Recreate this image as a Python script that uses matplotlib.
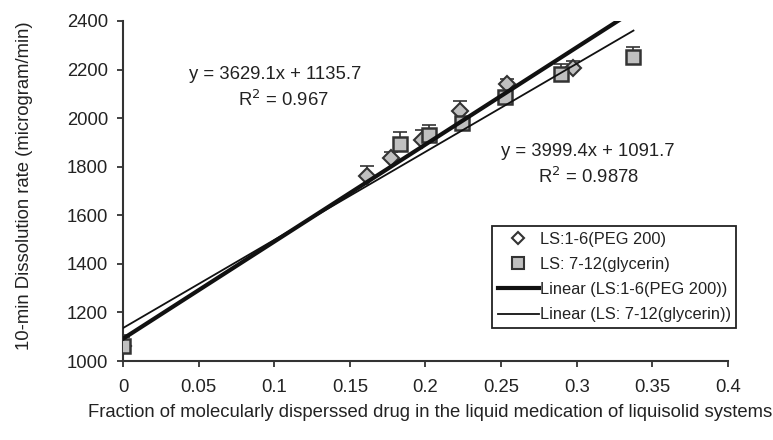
import matplotlib.pyplot as plt
import numpy as np
from matplotlib.lines import Line2D

plt.rcParams['font.family'] = ['Liberation Sans', 'DejaVu Sans']

# LS:1-6 (PEG 200)
peg_x = [0.0, 0.161, 0.177, 0.198, 0.2225, 0.2538, 0.2978]
peg_y = [1060, 1760, 1835, 1910, 2031, 2141, 2205]
peg_err = [40, 43, 26, 40, 40, 19, 32]

# LS:7-12 (glycerin)
gly_x = [0.0, 0.183, 0.2026, 0.224, 0.2526, 0.2897, 0.3375]
gly_y = [1063, 1894, 1931, 1981, 2089, 2181, 2253]
gly_err = [45, 48, 39, 20, 20, 41, 41]

# trendline coefficients (slope, intercept, r2)
peg_fit = (3999.4, 1091.7, 0.9878)
gly_fit = (3629.1, 1135.7, 0.967)

fig = plt.figure(figsize=(7.73, 4.40), dpi=100)
ax = fig.add_axes([0.1591, 0.1795, 0.7827, 0.7728])

grey = '#c0c0c0'
edge = '#333333'
txt = '#222222'
fs = 13.3

ax.errorbar(peg_x, peg_y, yerr=[np.zeros(len(peg_err)), peg_err], fmt='none',
            ecolor=edge, elinewidth=1.2, capsize=5, capthick=1.2, zorder=2)
ax.errorbar(gly_x, gly_y, yerr=[np.zeros(len(gly_err)), gly_err], fmt='none',
            ecolor=edge, elinewidth=1.2, capsize=5, capthick=1.2, zorder=2)
ax.plot(peg_x, peg_y, 'D', color=grey, markeredgecolor=edge, markeredgewidth=1.5,
        markersize=8, zorder=3)
ax.plot(gly_x, gly_y, 's', color=grey, markeredgecolor=edge, markeredgewidth=1.8,
        markersize=10.5, zorder=4)

xl = np.array([0.0, max(gly_x)])
ax.plot(xl, peg_fit[0] * xl + peg_fit[1], color='#111111', linewidth=3, zorder=5)
ax.plot(xl, gly_fit[0] * xl + gly_fit[1], color='#111111', linewidth=1.3, zorder=5)

ax.set_xlim(0, 0.4)
ax.set_ylim(1000, 2400)
ax.set_xticks(np.arange(0, 0.41, 0.05))
ax.set_xticklabels(['0', '0.05', '0.1', '0.15', '0.2', '0.25', '0.3', '0.35', '0.4'])
ax.set_yticks(np.arange(1000, 2401, 200))

for s in ['top', 'right']:
    ax.spines[s].set_visible(False)
for s in ['left', 'bottom']:
    ax.spines[s].set_color('#333333')
    ax.spines[s].set_linewidth(1.5)
ax.tick_params(axis='both', direction='out', length=4.3, width=1.3, color='#333333',
               labelsize=fs, labelcolor=txt)
ax.tick_params(axis='x', pad=8.5)
ax.tick_params(axis='y', pad=6.5)

ax.text(0.1005, 2178, 'y = 3629.1x + 1135.7', fontsize=fs, ha='center', va='center', color=txt)
ax.text(0.106, 2075, 'R$^2$ = 0.967', fontsize=fs, ha='center', va='center', color=txt)
ax.text(0.3075, 1861, 'y = 3999.4x + 1091.7', fontsize=fs, ha='center', va='center', color=txt)
ax.text(0.308, 1759, 'R$^2$ = 0.9878', fontsize=fs, ha='center', va='center', color=txt)

ax.set_ylabel('10-min Dissolution rate (microgram/min)', fontsize=fs, color=txt)
ax.yaxis.set_label_coords(-0.149, 0.515)
fig.text(0.556, 0.0636, 'Fraction of molecularly disperssed drug in the liquid medication of liquisolid systems',
         fontsize=fs, ha='center', va='center', color=txt)

handles = [
    Line2D([], [], marker='D', linestyle='none', color='white', markeredgecolor=edge,
           markeredgewidth=1.5, markersize=6),
    Line2D([], [], marker='s', linestyle='none', color=grey, markeredgecolor=edge,
           markeredgewidth=1.5, markersize=8),
    Line2D([], [], color='#111111', linewidth=3),
    Line2D([], [], color='#111111', linewidth=1.3),
]
labels = ['LS:1-6(PEG 200)', 'LS: 7-12(glycerin)', 'Linear (LS:1-6(PEG 200))',
          'Linear (LS: 7-12(glycerin))']
leg = ax.legend(handles, labels, loc='upper left', bbox_to_anchor=(0.61, 0.397),
                fontsize=11.8, frameon=True, fancybox=False, framealpha=1,
                edgecolor='#222222', handlelength=2.5, handletextpad=0.05,
                borderpad=0.35, labelspacing=0.62, borderaxespad=0)
leg.get_frame().set_linewidth(1.3)
for t in leg.get_texts():
    t.set_color(txt)

fig.savefig('out.png', dpi=100)
